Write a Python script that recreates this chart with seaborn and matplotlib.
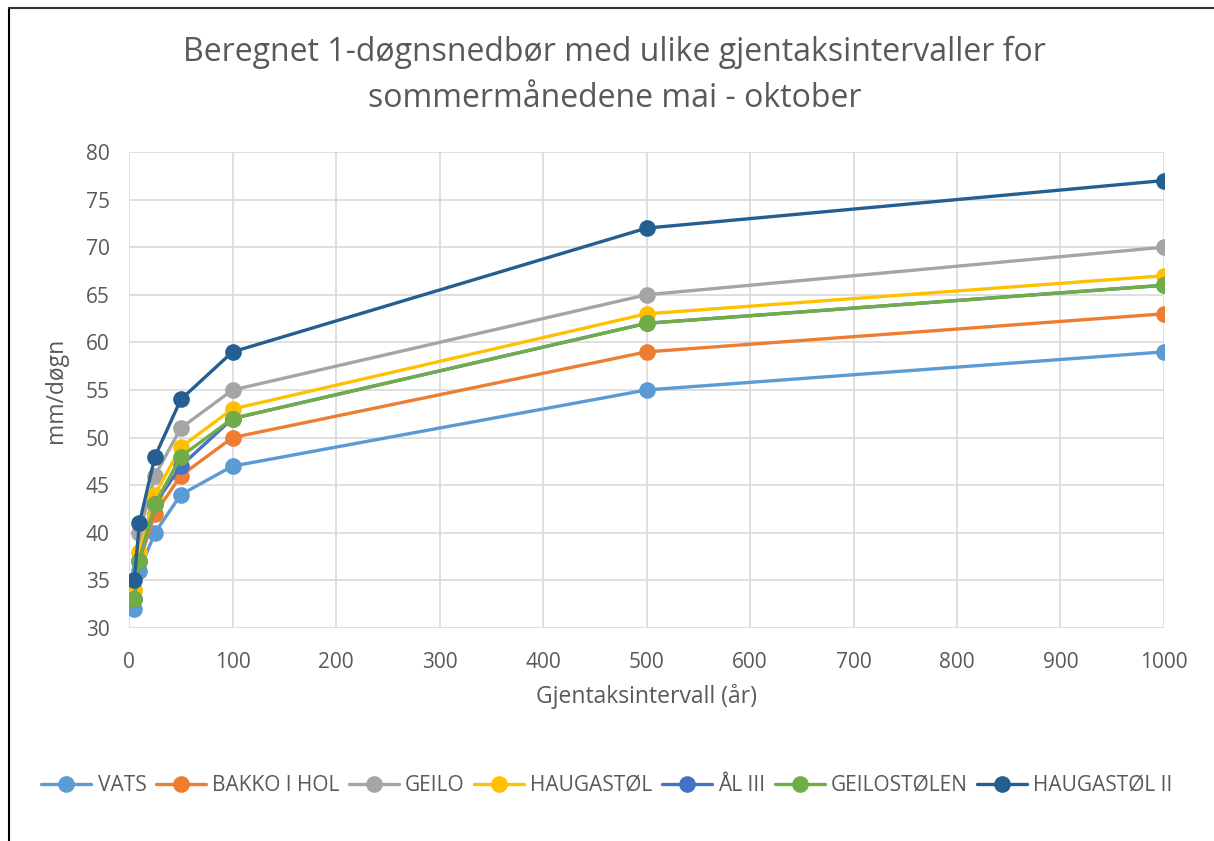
import matplotlib
matplotlib.use("Agg")
from matplotlib import pyplot as plt
from matplotlib.lines import Line2D
import seaborn as sns
import numpy as np
import pandas as pd

# gjentaksintervall (år)
intervals = [5, 10, 25, 50, 100, 500, 1000]

stations = ["VATS", "BAKKO I HOL", "GEILO", "HAUGASTØL", "ÅL III",
            "GEILOSTØLEN", "HAUGASTØL II"]

vats = [32, 36, 40, 44, 47, 55, 59]
bakko = [33, 37, 42, 46, 50, 59, 63]
geilo = [34, 40, 46, 51, 55, 65, 70]
haugastol = [34, 38, 44, 49, 53, 63, 67]
aal = [33, 37, 43, 47, 52, 62, 66]
geilostolen = [33, 37, 43, 48, 52, 62, 66]
haugastol2 = [35, 41, 48, 54, 59, 72, 77]

colors = ["#5B9BD5", "#ED7D31", "#A5A5A5", "#FFC000", "#4472C4",
          "#70AD47", "#255E91"]

series = [vats, bakko, geilo, haugastol, aal, geilostolen, haugastol2]
df = pd.concat([pd.DataFrame({"ar": intervals, "mm": vals, "stasjon": name})
                for name, vals in zip(stations, series)], ignore_index=True)

sns.set_style("white")
plt.rcParams["font.family"] = ["Open Sans", "DejaVu Sans"]
txt = "#595959"

fig = plt.figure(figsize=(12.14, 8.41), dpi=100)
ax = fig.add_axes([0.1063, 0.2533, 0.8525, 0.566])

sns.lineplot(data=df, x="ar", y="mm", hue="stasjon", hue_order=stations,
             palette=colors, marker="o", markersize=12, markeredgewidth=0,
             linewidth=2.4, ax=ax, legend=False)

ax.set_xlim(0, 1000)
ax.set_ylim(30, 80)
ax.set_xticks(np.arange(0, 1001, 100))
ax.set_yticks(np.arange(30, 81, 5))
ax.grid(True, color="#D9D9D9", linewidth=1.2)
ax.set_axisbelow(True)
for s in ax.spines.values():
    s.set_visible(False)
ax.tick_params(length=0, labelsize=15, labelcolor=txt)
ax.tick_params(axis="x", pad=17)
ax.tick_params(axis="y", pad=14)
ax.set_xlabel("Gjentaksintervall (år)", fontsize=16.5, color=txt, labelpad=8)
ax.set_ylabel("mm/døgn", fontsize=16.5, color=txt)
ax.yaxis.set_label_coords(-0.059, 0.5)

fig.text(0.506, 0.958, "Beregnet 1-døgnsnedbør med ulike gjentaksintervaller for\nsommermånedene mai - oktober",
         ha="center", va="top", fontsize=23, color=txt, linespacing=1.55)

handles = [Line2D([], [], color=c, marker="o", markersize=12, markeredgewidth=0,
                  linewidth=2.4) for c in colors]
fig.legend(handles, stations, loc="center", bbox_to_anchor=(0.5, 0.066),
           ncol=7, frameon=False, fontsize=15, labelcolor=txt,
           handlelength=2.4, handletextpad=0.3, columnspacing=0.45)

# ramme (kun venstre og topp synlig)
fig.add_artist(Line2D([0.0075, 0.0075], [0, 0.9905], color="black", linewidth=1.5,
                      transform=fig.transFigure))
fig.add_artist(Line2D([0.0075, 1], [0.9905, 0.9905], color="#333333", linewidth=1.5,
                      transform=fig.transFigure))

fig.savefig("out.png", dpi=100)
